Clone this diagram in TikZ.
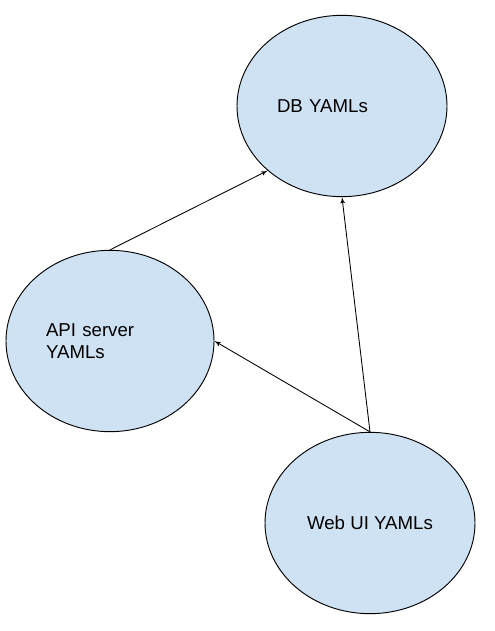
\documentclass[tikz,border=0pt]{standalone}
\usepackage{fontspec}
\setmainfont{Liberation Sans}
\usetikzlibrary{shapes}
\usetikzlibrary{arrows}
\definecolor{yamlblue}{HTML}{CFE2F3}

\begin{document}
\begin{tikzpicture}[x=.75pt,y=-.75pt]
\tikzset{yaml/.style = {shape=ellipse,draw,fill=yamlblue,line width=.7pt,inner sep=0pt,
  minimum width=157.5pt,minimum height=136pt,font=\fontsize{14}{16.5}\selectfont}}
\tikzset{edge/.style = {->,> = latex',line width=.65pt}}

\useasboundingbox (0,0) rectangle (494,631);

\node[yaml,text width=97.5pt,align=left] (db) at (342,106) {DB YAMLs};
\node[yaml,minimum width=156pt,text width=96pt,align=left] (api) at (110,341) {API server\\YAMLs};
\node[yaml] (web) at (370,523) {Web UI YAMLs};

%edges
\draw[edge] (api.north) to (db.221);
\draw[edge] (web.north) to (db.south);
\draw[edge] (web.north) to (api.east);

\end{tikzpicture}
\end{document}
